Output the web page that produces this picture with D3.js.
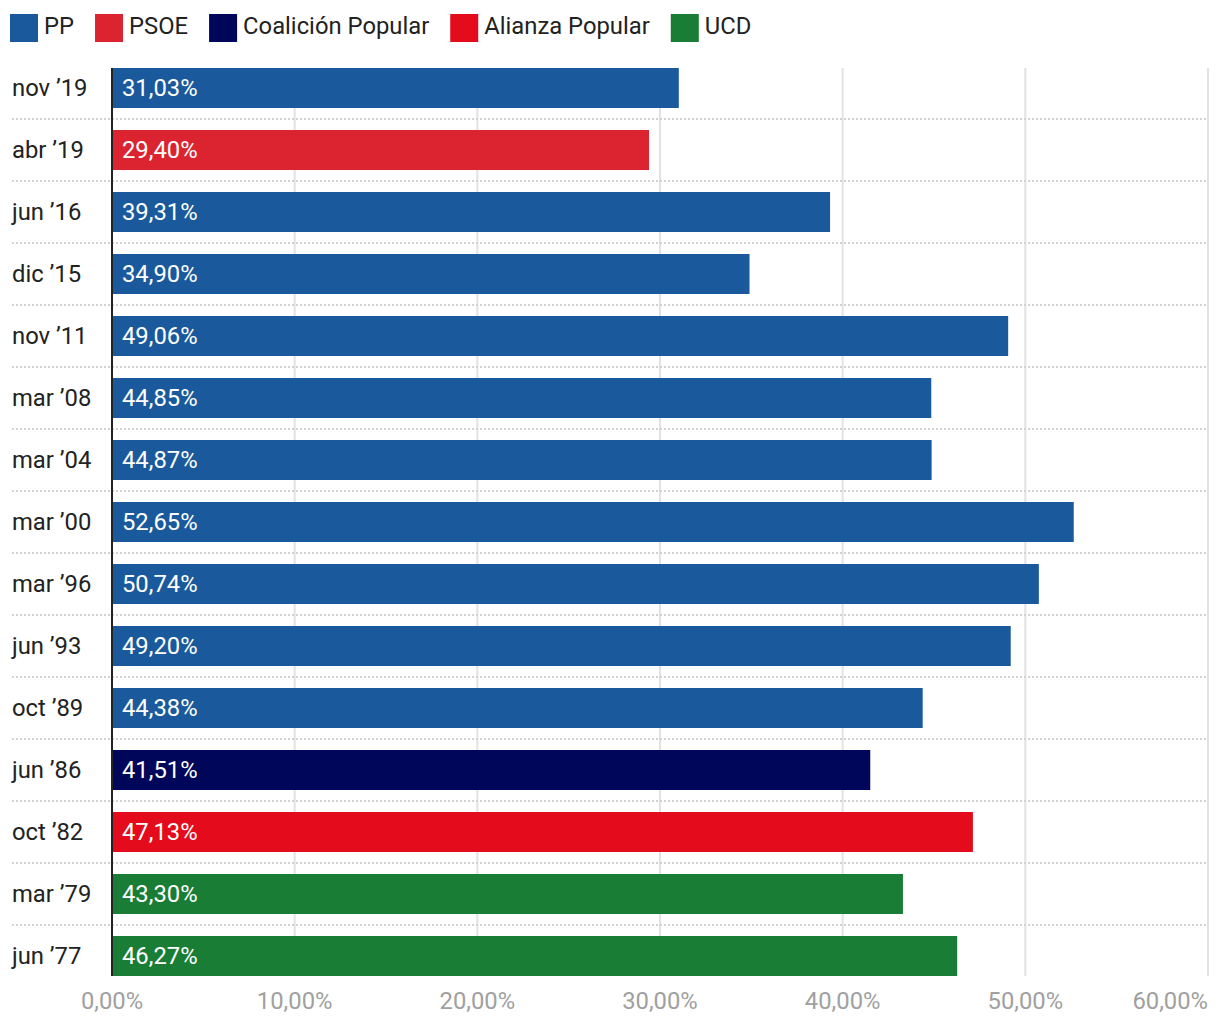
<!DOCTYPE html>
<html><head><meta charset="utf-8">
<script src="https://cdn.jsdelivr.net/npm/d3@7"></script>
<style>body{margin:0;background:#fff;font-family:Roboto,sans-serif;}</style>
</head><body><svg id="c" width="1220" height="1024"></svg>
<script>
const categories = ["nov ’19","abr ’19","jun ’16","dic ’15","nov ’11","mar ’08","mar ’04","mar ’00","mar ’96","jun ’93","oct ’89","jun ’86","oct ’82","mar ’79","jun ’77"];
const values = [31.03,29.40,39.31,34.90,49.06,44.85,44.87,52.65,50.74,49.20,44.38,41.51,47.13,43.30,46.27];
const parties = ["PP","PSOE","PP","PP","PP","PP","PP","PP","PP","PP","PP","Coalición Popular","Alianza Popular","UCD","UCD"];
const legendNames = ["PP","PSOE","Coalición Popular","Alianza Popular","UCD"];
const legendColors = ["#1a5a9c","#dc2430","#000659","#e30b1c","#1a7d36"];
const ticks = [0,10,20,30,40,50,60];

const svg = d3.select("#c");
const FS = 23.8;
const color = d3.scaleOrdinal(legendNames, legendColors);
const x = d3.scaleLinear([0,60],[112,1208]);
const y = d3.scaleBand(categories,[57,987]).paddingInner(22/62).paddingOuter(11/62);
const fmt = v => d3.format(".2f")(v).replace(".",",")+"%";
const plotTop = y(categories[0]), plotBottom = y(categories[categories.length-1]) + y.bandwidth();

// legend
let lx = 10;
const lg = svg.append("g");
legendNames.forEach((n,i)=>{
  lg.append("rect").attr("x",lx).attr("y",14).attr("width",28).attr("height",28).attr("fill",legendColors[i]);
  const t = lg.append("text").attr("x",lx+34).attr("y",26).attr("dy","0.35em")
    .attr("font-size",FS).attr("fill","#222").text(n);
  lx += 34 + t.node().getComputedTextLength() + 21;
});

// grid
svg.append("g").selectAll("line").data(ticks.slice(1)).join("line")
  .attr("x1",d=>x(d)).attr("x2",d=>x(d)).attr("y1",plotTop).attr("y2",plotBottom)
  .attr("stroke","#e2e2e2").attr("stroke-width",2);

// separators
svg.append("g").selectAll("line").data(categories.slice(1)).join("line")
  .attr("x1",12).attr("x2",1208)
  .attr("y1",d=>y(d)-11).attr("y2",d=>y(d)-11)
  .attr("stroke","#d2d2d2").attr("stroke-width",2).attr("stroke-dasharray","2,2");

// bars
svg.append("g").selectAll("rect").data(categories).join("rect")
  .attr("x",x(0)).attr("y",d=>y(d)).attr("height",y.bandwidth())
  .attr("width",(d,i)=>x(values[i])-x(0)).attr("fill",(d,i)=>color(parties[i]));

// value labels
svg.append("g").selectAll("text").data(categories).join("text")
  .attr("x",x(0)+10).attr("y",d=>y(d)+y.bandwidth()/2).attr("dy","0.35em")
  .attr("font-size",FS).attr("fill","#fff").text((d,i)=>fmt(values[i]));

// category labels
svg.append("g").selectAll("text").data(categories).join("text")
  .attr("x",12).attr("y",d=>y(d)+y.bandwidth()/2).attr("dy","0.35em")
  .attr("font-size",FS).attr("fill","#222").text(d=>d);

// baseline axis line
svg.append("line").attr("x1",x(0)).attr("x2",x(0)).attr("y1",plotTop).attr("y2",plotBottom)
  .attr("stroke","#222").attr("stroke-width",2);

// x axis labels
svg.append("g").selectAll("text").data(ticks).join("text")
  .attr("x",d=>x(d)).attr("y",1001).attr("dy","0.35em")
  .attr("text-anchor",(d,i)=>i===ticks.length-1?"end":"middle")
  .attr("font-size",FS).attr("fill","#a0a0a0").text(d=>fmt(d));
</script></body></html>
